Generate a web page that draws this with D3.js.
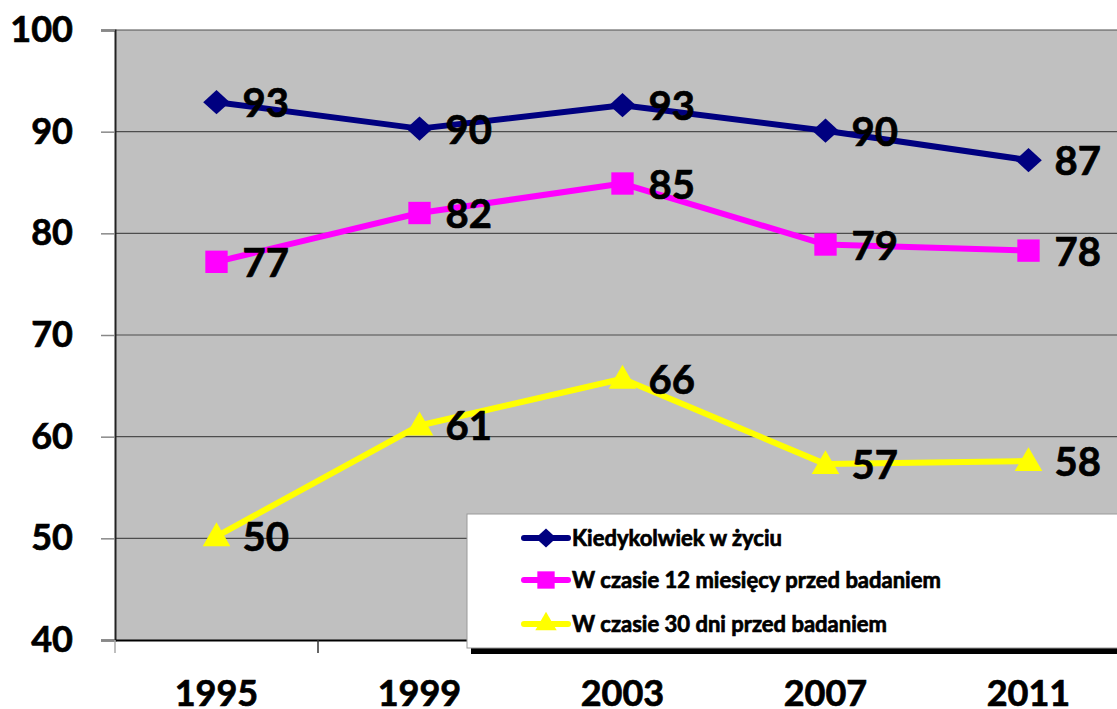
<!DOCTYPE html>
<html>
<head>
<meta charset="utf-8">
<script src="https://cdn.jsdelivr.net/npm/d3@7"></script>
<style>
	body { margin: 0; background: #fff; }
	svg { display: block; font-family: Lato, "Open Sans", sans-serif; font-weight: bold; }
	text { stroke: #000; stroke-width: 0.7px; }
</style>
</head>
<body>
<svg id="chart" width="1117" height="709"></svg>
<script>
var years = ["1995", "1999", "2003", "2007", "2011"];
var seriesNames = ["Kiedykolwiek w życiu", "W czasie 12 miesięcy przed badaniem", "W czasie 30 dni przed badaniem"];
var everValues = [92.9, 90.3, 92.6, 90.1, 87.2];
var yearValues = [77.2, 82.0, 84.9, 78.9, 78.3];
var monthValues = [50.2, 61.1, 65.7, 57.3, 57.6];
var everLabels = ["93", "90", "93", "90", "87"];
var yearLabels = ["77", "82", "85", "79", "78"];
var monthLabels = ["50", "61", "66", "57", "58"];
var yTicks = [40, 50, 60, 70, 80, 90, 100];

var series = [
	{name: seriesNames[0], values: everValues, labels: everLabels, color: "#000080", symbol: d3.symbolDiamond, size: 170, sx: 1.9},
	{name: seriesNames[1], values: yearValues, labels: yearLabels, color: "#FF00FF", symbol: d3.symbolSquare, size: 500, sx: 1},
	{name: seriesNames[2], values: monthValues, labels: monthLabels, color: "#FFFF00", symbol: d3.symbolTriangle, size: 330, sx: 1}
];

var margin = {top: 30, left: 115},
		plotBottom = 640,
		band = 203;

var svg = d3.select("#chart");

var x = d3.scaleBand().domain(years).range([margin.left, margin.left + band * years.length]),
		y = d3.scaleLinear().domain([40, 100]).range([plotBottom, margin.top]);

// plot background
svg.append("rect")
	.attr("x", x.range()[0])
	.attr("y", y(100))
	.attr("width", x.range()[1] - x.range()[0])
	.attr("height", y(40) - y(100))
	.attr("fill", "#C0C0C0");

// gridlines
svg.append("g")
	.selectAll("line")
	.data(yTicks.slice(1))
	.join("line")
		.attr("x1", x.range()[0])
		.attr("x2", x.range()[1])
		.attr("y1", function(d) { return y(d); })
		.attr("y2", function(d) { return y(d); })
		.attr("stroke", "#4d4d4d")
		.attr("stroke-width", function(d) { return d === 100 ? 2 : 1.2; })
		.attr("stroke-opacity", function(d) { return d === 100 ? 0.5 : 1; });

// y axis
var yAxis = d3.axisLeft(y).tickValues(yTicks).tickSize(14).tickPadding(28);
var gy = svg.append("g")
	.attr("transform", "translate(" + margin.left + ",0)")
	.call(yAxis);
gy.select(".domain").attr("stroke", "#222").attr("stroke-width", 2);
gy.selectAll(".tick line").attr("stroke", "#888").attr("stroke-width", 1.5);
gy.selectAll(".tick text")
	.attr("font-family", "Lato, sans-serif")
	.attr("font-size", 36)
	.attr("font-weight", "bold")
	.attr("fill", "#000");

// x axis
var xAxis = d3.axisBottom(x).tickSize(0).tickPadding(40);
var gx = svg.append("g")
	.attr("transform", "translate(0," + plotBottom + ")")
	.call(xAxis);
gx.select(".domain").attr("stroke", "#000").attr("stroke-width", 2);
gx.selectAll(".tick text")
	.attr("font-family", "Lato, sans-serif")
	.attr("font-size", 36)
	.attr("font-weight", "bold")
	.attr("fill", "#000");

// x tick marks at band edges
var edges = years.map(function(d) { return x(d); }).concat([x.range()[1]]);
gx.append("g")
	.selectAll("line")
	.data(edges)
	.join("line")
		.attr("x1", function(d) { return d; })
		.attr("x2", function(d) { return d; })
		.attr("y1", 0)
		.attr("y2", 13)
		.attr("stroke", function(d, i) { return i === 0 ? "#aaa" : "#333"; })
		.attr("stroke-width", 1.5);

var cx = function(d, i) { return x(years[i]) + x.bandwidth() / 2; };

var line = d3.line()
	.x(cx)
	.y(function(d) { return y(d); });

var gs = svg.append("g")
	.selectAll("g")
	.data(series)
	.join("g");

gs.append("path")
	.attr("d", function(s) { return line(s.values); })
	.attr("fill", "none")
	.attr("stroke", function(s) { return s.color; })
	.attr("stroke-width", 6)
	.attr("stroke-linejoin", "round");

gs.each(function(s) {
	var g = d3.select(this);
	g.selectAll("path.marker")
		.data(s.values)
		.join("path")
			.attr("class", "marker")
			.attr("d", d3.symbol().type(s.symbol).size(s.size))
			.attr("transform", function(d, i) {
				var dy = s.symbol === d3.symbolTriangle ? 2 : 0;
				return "translate(" + cx(d, i) + "," + (y(d) + dy) + ") scale(" + s.sx + ",1)";
			})
			.attr("fill", s.color);
	g.selectAll("text.value")
		.data(s.values)
		.join("text")
			.attr("class", "value")
			.attr("x", function(d, i) { return cx(d, i) + 26; })
			.attr("y", function(d) { return y(d) + 15; })
			.attr("font-size", 40)
			.attr("fill", "#000")
			.text(function(d, i) { return s.labels[i]; });
});

// legend
var legend = svg.append("g").attr("transform", "translate(467,514)");
legend.append("rect")
	.attr("x", 4).attr("y", 4)
	.attr("width", 700).attr("height", 136)
	.attr("fill", "#000");
legend.append("rect")
	.attr("x", 0).attr("y", 0)
	.attr("width", 700).attr("height", 134)
	.attr("fill", "#fff")
	.attr("stroke", "#999")
	.attr("stroke-width", 1);

var rows = legend.selectAll("g.row")
	.data(series)
	.join("g")
		.attr("class", "row")
		.attr("transform", function(d, i) { return "translate(0," + [24, 66, 110][i] + ")"; });
rows.append("line")
	.attr("x1", 57).attr("x2", 101)
	.attr("stroke", function(s) { return s.color; })
	.attr("stroke-width", 6)
	.attr("stroke-linecap", "round");
rows.append("path")
	.attr("d", function(s) { return d3.symbol().type(s.symbol).size(s.size * 0.6)(); })
	.attr("transform", function(s) { return "translate(79,0) scale(" + s.sx + ",1)"; })
	.attr("fill", function(s) { return s.color; });
rows.append("text")
	.attr("x", 105)
	.attr("y", 8)
	.attr("font-size", 22)
	.attr("stroke-width", 0.4)
	.attr("fill", "#000")
	.text(function(s) { return s.name; });
</script>
</body>
</html>
